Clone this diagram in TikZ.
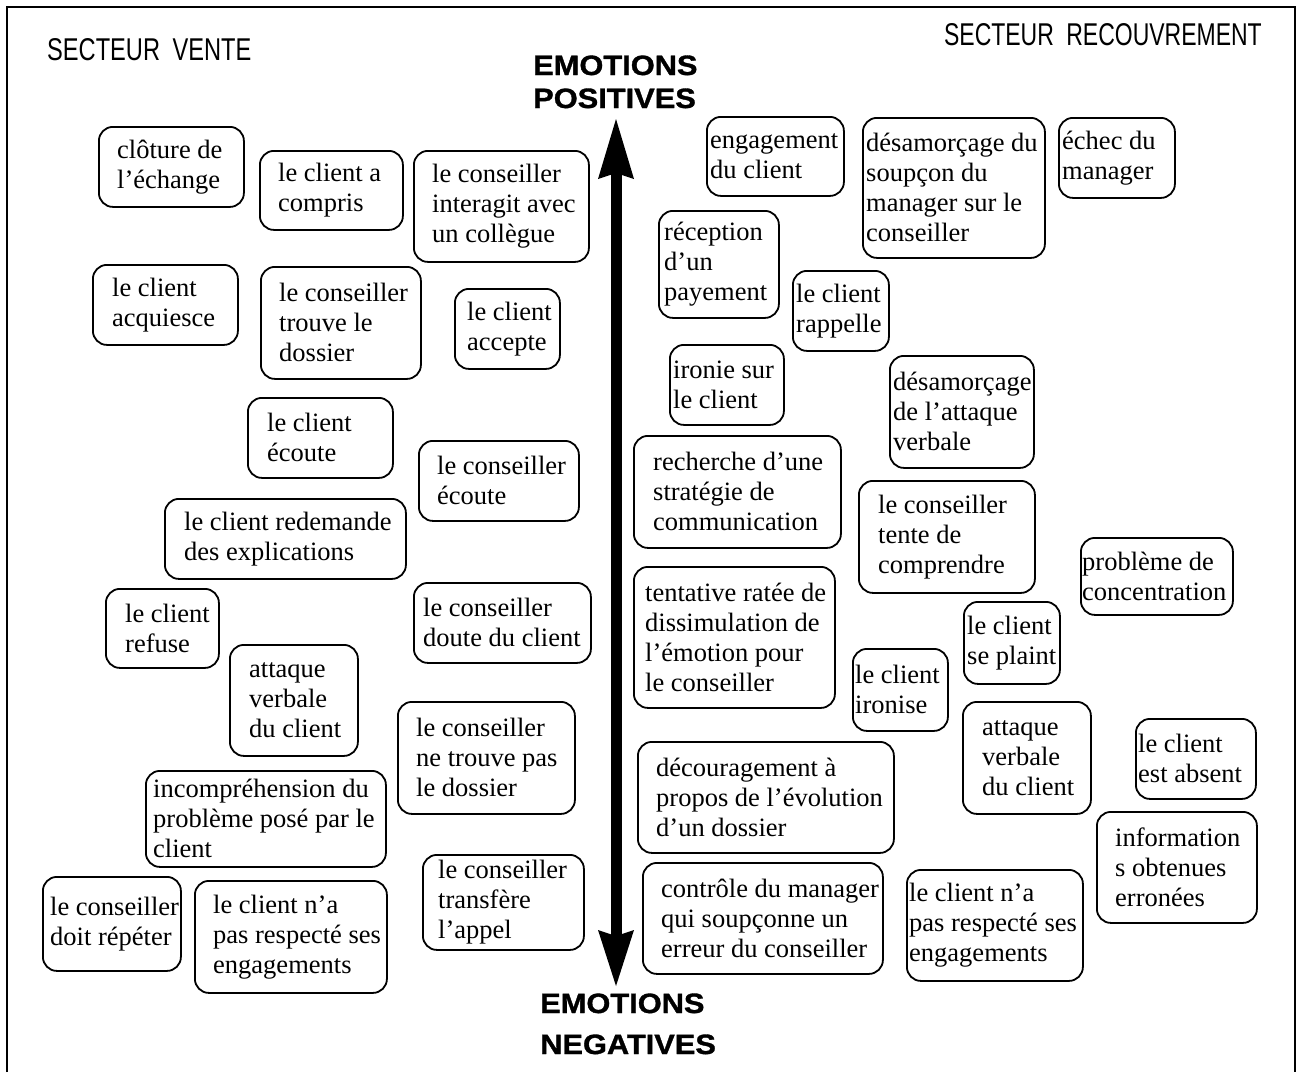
\documentclass[tikz,border=0pt]{standalone}
\usepackage{fontspec}
\setmainfont{Liberation Serif}
\newfontfamily\headfont[FakeStretch=1.1,FakeBold=1.2]{Liberation Sans Bold}
\newfontfamily\narrowfont[FakeStretch=0.75]{Liberation Sans}
\newfontfamily\narrowfontb[FakeStretch=0.73]{Liberation Sans}
\usetikzlibrary{arrows.meta}
\tikzset{
  bbox/.style={draw, rounded corners=14pt, line width=1.8pt, inner sep=0pt},
  btext/.style={align=left, inner sep=0pt, font=\fontsize{26.5}{30}\selectfont},
  headlbl/.style={inner sep=0pt, font=\headfont\fontsize{28}{33}\selectfont},
  sectlbl/.style={inner sep=0pt, font=\narrowfont\fontsize{31.5}{34}\selectfont},
  sectlblb/.style={inner sep=0pt, font=\narrowfontb\fontsize{31.5}{34}\selectfont},
  axis/.style={line width=11pt, {Stealth[length=60pt,width=36pt,inset=6pt,line width=0pt]}-{Stealth[length=56pt,width=36pt,inset=6pt,line width=0pt]}}
}
\newcommand\bx[7]{%
  \node[bbox, minimum width=#4pt, minimum height=#5pt, anchor=north west] (#1) at (#2,#3) {};
  \node[btext, anchor=west] (#1t) at ([xshift=#6pt]#1.west) {#7};
}
\begin{document}
\begin{tikzpicture}[x=1pt,y=-1pt]
\useasboundingbox (0,0) rectangle (1301,1072);
\fill[white] (0,0) rectangle (1301,1072);
% frame
\draw[line width=2pt] (7,1072) -- (7,7) -- (1295,7) -- (1295,1072);

% sector labels
\node[sectlbl, anchor=base west] (vente) at (47,60) {SECTEUR\hspace{6pt} VENTE};
\node[sectlblb, anchor=base east] (recouv) at (1262,45) {SECTEUR\hspace{6pt} RECOUVREMENT};

% axis labels
\node[headlbl, anchor=base west] (pos1) at (533,75) {EMOTIONS};
\node[headlbl, anchor=base west] (pos2) at (533,108) {POSITIVES};
\node[headlbl, anchor=base west] (neg1) at (540,1013) {EMOTIONS};
\node[headlbl, anchor=base west] (neg2) at (540,1054) {NEGATIVES};

% axis
\coordinate (axtop) at (616,119);
\coordinate (axbot) at (616,986);
\draw[axis] (axtop) -- (axbot);

% left side (secteur vente)
\bx{clo}{98}{126}{145}{80}{19}{clôture de\\l’échange}
\bx{comp}{259}{150}{143}{79}{19}{le client a\\compris}
\bx{inter}{413}{150}{175}{111}{19}{le conseiller\\interagit avec\\un collègue}
\bx{acq}{92}{264}{145}{80}{20}{le client\\acquiesce}
\bx{trouve}{260}{266}{160}{112}{19}{le conseiller\\trouve le\\dossier}
\bx{accepte}{454}{288}{105}{80}{13}{le client\\accepte}
\bx{ecoute}{247}{397}{145}{80}{20}{le client\\écoute}
\bx{cecoute}{418}{440}{160}{80}{19}{le conseiller\\écoute}
\bx{redem}{164}{498}{241}{80}{20}{le client redemande\\des explications}
\bx{refuse}{105}{588}{113}{79}{20}{le client\\refuse}
\bx{attL}{229}{644}{128}{111}{20}{attaque\\verbale\\du client}
\bx{doute}{413}{582}{177}{80}{10}{le conseiller\\doute du client}
\bx{netrouve}{397}{701}{177}{112}{19}{le conseiller\\ne trouve pas\\le dossier}
\bx{incomp}{145}{770}{240}{96}{8}{incompréhension du\\problème posé par le\\client}
\bx{repeter}{42}{876}{138}{94}{8}{le conseiller\\doit répéter}
\bx{engL}{194}{880}{192}{112}{19}{le client n’a\\pas respecté ses\\engagements}
\bx{transf}{422}{854}{161}{95}{16}{le conseiller\\transfère\\l’appel}

% right side (secteur recouvrement)
\bx{engag}{706}{116}{137}{79}{4}{engagement\\du client}
\bx{desS}{862}{117}{182}{140}{4}{désamorçage du\\soupçon du\\manager sur le\\conseiller}
\bx{echec}{1058}{117}{116}{80}{4}{échec du\\manager}
\bx{recep}{658}{210}{120}{107}{6}{réception\\d’un\\payement}
\bx{rappel}{792}{270}{96}{80}{4}{le client\\rappelle}
\bx{ironie}{669}{344}{114}{80}{4}{ironie sur\\le client}
\bx{desA}{889}{355}{144}{112}{4}{désamorçage\\de l’attaque\\verbale}
\bx{rech}{633}{435}{207}{112}{20}{recherche d’une\\stratégie de\\communication}
\bx{tente}{858}{480}{176}{112}{20}{le conseiller\\tente de\\comprendre}
\bx{concen}{1080}{537}{152}{77}{2}{problème de\\concentration}
\bx{tentat}{633}{566}{201}{141}{12}{tentative ratée de\\dissimulation de\\l’émotion pour\\le conseiller}
\bx{plaint}{963}{601}{96}{82}{4}{le client\\se plaint}
\bx{ironise}{852}{648}{95}{82}{3}{le client\\ironise}
\bx{attR}{962}{701}{128}{112}{20}{attaque\\verbale\\du client}
\bx{absent}{1135}{718}{120}{80}{3}{le client\\est absent}
\bx{decour}{637}{741}{256}{111}{19}{découragement à\\propos de l’évolution\\d’un dossier}
\bx{info}{1096}{811}{160}{111}{19}{information\\s obtenues\\erronées}
\bx{controle}{642}{862}{240}{111}{19}{contrôle du manager\\qui soupçonne un\\erreur du conseiller}
\bx{engR}{906}{869}{176}{111}{3}{le client n’a\\pas respecté ses\\engagements}
\end{tikzpicture}
\end{document}
